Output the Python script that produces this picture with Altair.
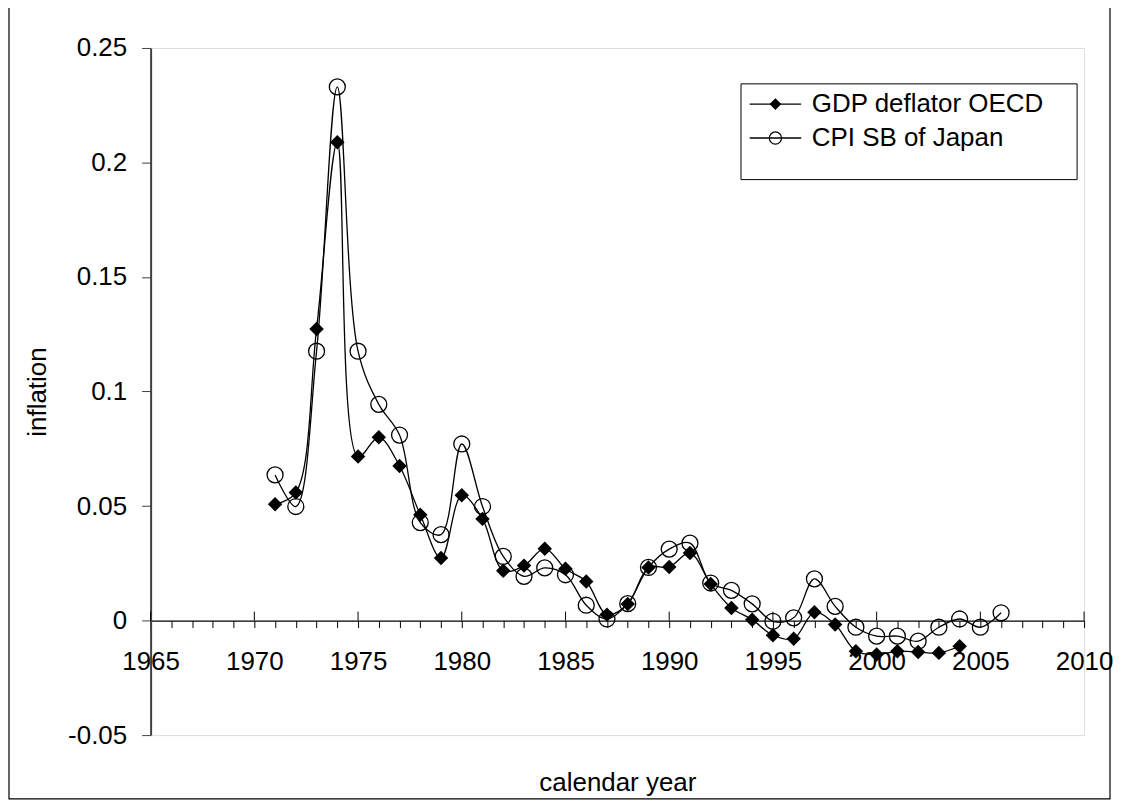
import altair as alt
import pandas as pd

# ---- data ----
gdp_years = list(range(1971, 2005))
gdp_values = [0.0508, 0.0559, 0.1273, 0.2088, 0.0716, 0.0800, 0.0675, 0.0462, 0.0273, 0.0547,
              0.0444, 0.0218, 0.0240, 0.0314, 0.0226, 0.0171, 0.0026, 0.0072, 0.0232, 0.0234,
              0.0295, 0.0160, 0.0055, 0.0004, -0.0064, -0.0079, 0.0036, -0.0017, -0.0134, -0.0148,
              -0.0134, -0.0137, -0.0141, -0.0112]
cpi_years = list(range(1971, 2007))
cpi_values = [0.0636, 0.0498, 0.1176, 0.2330, 0.1176, 0.0944, 0.0810, 0.0428, 0.0375, 0.0771,
              0.0498, 0.0280, 0.0193, 0.0230, 0.0200, 0.0067, 0.0007, 0.0074, 0.0232, 0.0312,
              0.0338, 0.0164, 0.0132, 0.0073, -0.0003, 0.0012, 0.0182, 0.0062, -0.0029, -0.0068,
              -0.0068, -0.0090, -0.0029, 0.0007, -0.0029, 0.0034]
series_names = ["GDP deflator OECD", "CPI SB of Japan"]
x_ticks_all = list(range(1965, 2011))
x_ticks_major = list(range(1965, 2011, 5))
y_ticks = [-0.05, 0, 0.05, 0.1, 0.15, 0.2, 0.25]

gdp_df = pd.DataFrame({"year": gdp_years, "value": gdp_values, "series": series_names[0]})
cpi_df = pd.DataFrame({"year": cpi_years, "value": cpi_values, "series": series_names[1]})
major_df = pd.DataFrame({"year": x_ticks_major})

W, H = 936, 689
FONT = "Liberation Sans"
FS = 26
y_zero_from_bottom = H * 0.05 / 0.30
y_zero_px = H - y_zero_from_bottom

xscale = alt.Scale(domain=[1965, 2010], nice=False, zero=False)
yscale = alt.Scale(domain=[-0.05, 0.25], nice=False, zero=False)

x_axis = alt.Axis(
    values=x_ticks_all, labelExpr="datum.value % 5 === 0 ? '' + datum.value : ''",
    offset=-y_zero_from_bottom, tickSize=7, tickColor="black", domainColor="black",
    domainWidth=1.3, tickWidth=1, labelPadding=21, labelFont=FONT, labelFontSize=FS,
    labelColor="black", labelFlush=False, labelOverlap=False, grid=False,
    title="calendar year", titleFont=FONT, titleFontSize=FS, titleFontWeight="normal",
    titleColor="black", titleBaseline="middle", titleY=162)
y_axis = alt.Axis(
    values=y_ticks, labelExpr="'' + datum.value", tickSize=9, tickColor="#404040",
    domainColor="#404040", domainWidth=2, labelPadding=15, labelFont=FONT, labelFontSize=FS,
    labelColor="black", labelFlush=False, labelOverlap=False, grid=False, title="inflation",
    titleFont=FONT, titleFontSize=FS, titleFontWeight="normal", titleColor="black",
    titleAngle=-90, titleAlign="center", titleBaseline="middle", titleX=-113, titleY=H / 2)

X = alt.X("year:Q", scale=xscale, axis=x_axis)
Y = alt.Y("value:Q", scale=yscale, axis=y_axis)

lines = alt.Chart(pd.concat([gdp_df, cpi_df])).mark_line(
    interpolate="catmull-rom", color="black", strokeWidth=1.3
).encode(x=X, y=Y, detail="series:N")

major_ticks = alt.Chart(major_df).mark_rule(color="black", strokeWidth=1).encode(
    x=X, y=alt.value(y_zero_px - 9), y2=alt.value(y_zero_px))

gdp_pts = alt.Chart(gdp_df).mark_point(
    shape="diamond", filled=True, color="black", size=210, opacity=1
).encode(x=X, y=Y)
cpi_pts = alt.Chart(cpi_df).mark_point(
    shape="circle", filled=False, color="black", size=256, strokeWidth=1.3, opacity=1
).encode(x=X, y=Y)

# ---- legend (drawn by hand) ----
leg_df = pd.DataFrame({"label": series_names})
one = pd.DataFrame({"k": [0]})
LX0, LX1, LY0, LY1 = 592, 929, 36, 132
rows = [56.3, 90.3]
legend_box = alt.Chart(one).mark_rect(fill="white", stroke="black", strokeWidth=1).encode(
    x=alt.value(LX0), x2=alt.value(LX1), y=alt.value(LY0), y2=alt.value(LY1))
leg_layers = [legend_box]
for i, name in enumerate(series_names):
    d = leg_df[leg_df["label"] == name]
    leg_layers.append(alt.Chart(d).mark_rule(color="black", strokeWidth=1.3).encode(
        x=alt.value(600.7), x2=alt.value(652.3), y=alt.value(rows[i])))
    if i == 0:
        leg_layers.append(alt.Chart(d).mark_point(shape="diamond", filled=True, color="black",
                                                  size=140, opacity=1).encode(
            x=alt.value(626.5), y=alt.value(rows[i])))
    else:
        leg_layers.append(alt.Chart(d).mark_point(shape="circle", filled=False, color="black",
                                                  size=150, strokeWidth=1.2, opacity=1).encode(
            x=alt.value(626.5), y=alt.value(rows[i])))
    leg_layers.append(alt.Chart(d).mark_text(align="left", baseline="middle", font=FONT,
                                             fontSize=FS, color="black").encode(
        x=alt.value(663), y=alt.value(rows[i] - 0.5), text="label:N"))

frame = alt.Chart(one).mark_rect(fill=None, stroke="black", strokeWidth=1.2).encode(
    x=alt.value(9 - 151), x2=alt.value(1113 - 151), y=alt.value(5 - 47), y2=alt.value(800 - 47))

chart = alt.layer(frame, lines, major_ticks, gdp_pts, cpi_pts, *leg_layers).properties(
    width=W, height=H,
    autosize=alt.AutoSizeParams(type="none"),
    padding={"left": 143, "top": 39, "right": 30, "bottom": 65},
).configure_view(stroke="#808080", strokeWidth=1.2).configure(background="white")

chart.save("out.html", embed_options={"renderer": "svg", "actions": False})
